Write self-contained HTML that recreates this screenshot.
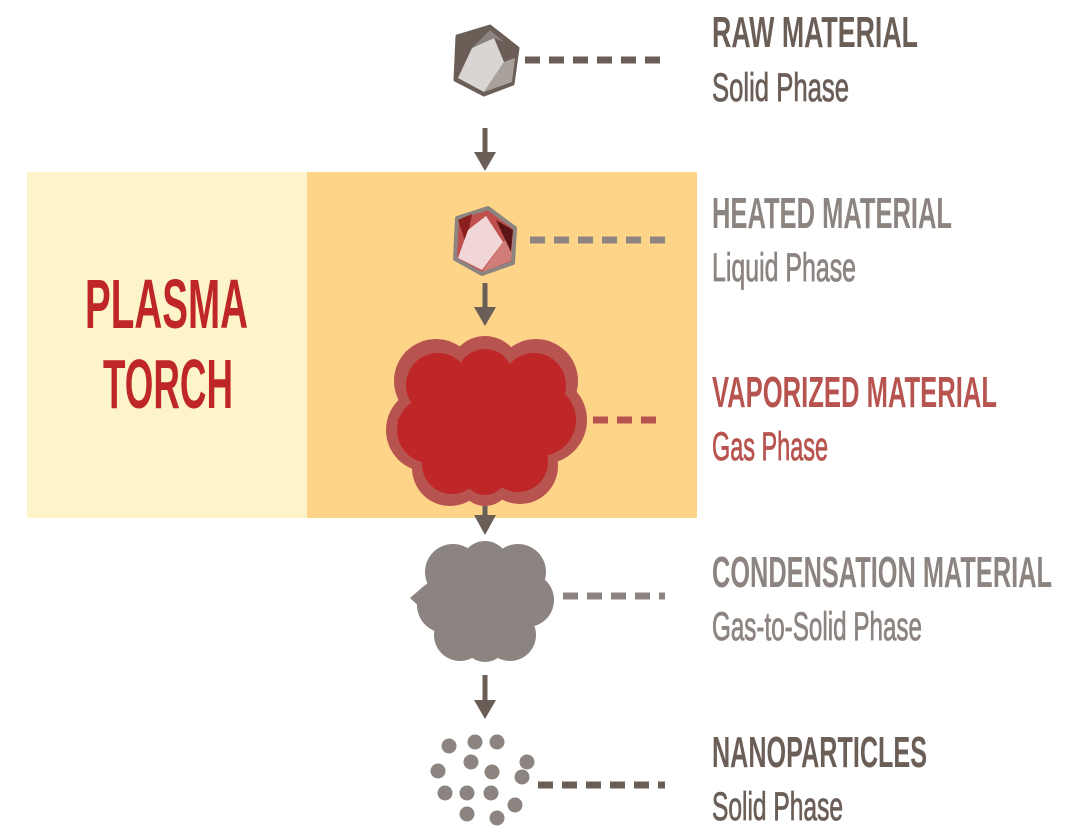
<!DOCTYPE html>
<html><head><meta charset="utf-8"><style>
html,body{margin:0;padding:0;background:#fff;width:1080px;height:840px;overflow:hidden}
text{font-family:"Liberation Sans Narrow","Liberation Sans",sans-serif}
.t{font-weight:bold;font-size:44px}
.s{font-size:40px;stroke-width:0.8}
</style></head><body>
<svg width="1080" height="840" viewBox="0 0 1080 840" xmlns="http://www.w3.org/2000/svg">
<rect x="27" y="172" width="281" height="346" fill="#fdf5c9"/>
<rect x="307" y="172" width="390" height="346" fill="#fdd488"/>
<text x="85" y="328" font-size="70" font-weight="bold" fill="#be2628" textLength="163" lengthAdjust="spacingAndGlyphs">PLASMA</text>
<text x="103" y="408" font-size="70" font-weight="bold" fill="#be2628" textLength="130" lengthAdjust="spacingAndGlyphs">TORCH</text>

<g stroke-width="7" fill="none">
<line x1="525" y1="60" x2="665" y2="60" stroke="#6b5e57" stroke-dasharray="15 9"/>
<line x1="530" y1="240" x2="665" y2="240" stroke="#8c8480" stroke-dasharray="15 9"/>
<line x1="593" y1="420" x2="665" y2="420" stroke="#b85450" stroke-dasharray="15 9"/>
<line x1="563" y1="596" x2="665" y2="596" stroke="#8c8480" stroke-dasharray="15 9"/>
<line x1="538" y1="785" x2="665" y2="785" stroke="#6b5e57" stroke-dasharray="15 9"/>
</g>

<g fill="#6b5e57" stroke="#6b5e57">
<line x1="485" y1="128" x2="485" y2="155" stroke-width="5"/><polygon points="474,152 496,152 485,171" stroke="none"/>
<line x1="485" y1="283" x2="485" y2="310" stroke-width="5"/><polygon points="474,307 496,307 485,326" stroke="none"/>
<line x1="485" y1="500" x2="485" y2="520" stroke-width="5"/><polygon points="474,515 496,515 485,535" stroke="none"/>
<line x1="485" y1="675" x2="485" y2="702" stroke-width="5"/><polygon points="474,700 496,700 485,719" stroke="none"/>
</g>

<!-- raw gem -->
<polygon points="457,36 490,26 518,48 513,84 484,95 455,80" fill="#6b5e57" stroke="#6b5e57" stroke-width="3" stroke-linejoin="round"/>
<polygon points="458,78 472,48 494,38 504,62 484,92" fill="#d9d5d3"/>
<polygon points="504,62 515,58 512,82 484,92" fill="#a9a19c"/>
<polygon points="472,48 490,30 504,42 494,38" fill="#8c8480"/>

<!-- heated gem -->
<polygon points="457,218 488,208 515,228 513,263 482,274 455,259" fill="#c0504d" stroke="#8c8480" stroke-width="4" stroke-linejoin="round"/>
<polygon points="458,220 472,214 466,244" fill="#8b1f1f"/>
<polygon points="458,258 468,230 486,216 503,242 482,270" fill="#f0d6d6"/>
<polygon points="503,242 513,236 511,261 482,272" fill="#d07c78"/>
<polygon points="496,220 513,230 511,252" fill="#5c1515"/>

<!-- red cloud -->
<g fill="#b85450">
<circle cx="436" cy="381" r="42"/><circle cx="485" cy="372" r="36"/><circle cx="536" cy="381" r="42"/>
<circle cx="428" cy="430" r="42"/><circle cx="543" cy="420" r="44"/>
<circle cx="450" cy="468" r="38"/><circle cx="520" cy="466" r="38"/><circle cx="485" cy="480" r="26"/>
<circle cx="485" cy="425" r="60"/>
<polygon points="388,420 410,398 410,442"/>
</g>
<g fill="#be2628">
<circle cx="438" cy="385" r="32"/><circle cx="485" cy="377" r="28"/><circle cx="534" cy="385" r="32"/>
<circle cx="430" cy="430" r="33"/><circle cx="540" cy="420" r="36"/>
<circle cx="452" cy="464" r="30"/><circle cx="518" cy="462" r="30"/><circle cx="485" cy="473" r="22"/>
<circle cx="485" cy="425" r="55"/>
<polygon points="397,420 412,406 412,436"/>
</g>

<!-- gray cloud -->
<g fill="#8c8480">
<circle cx="453" cy="572" r="28"/><circle cx="485" cy="565" r="24"/><circle cx="518" cy="572" r="28"/>
<circle cx="445" cy="605" r="28"/><circle cx="527" cy="600" r="27"/>
<circle cx="460" cy="635" r="26"/><circle cx="510" cy="635" r="26"/><circle cx="485" cy="640" r="22"/>
<circle cx="485" cy="602" r="42"/>
<polygon points="410,598 425,585 425,612"/>
</g>

<g fill="#8c8480">
<circle cx="449" cy="746" r="7.5"/><circle cx="475" cy="742" r="7.5"/><circle cx="497" cy="742" r="7.5"/>
<circle cx="438" cy="771" r="7.5"/><circle cx="471" cy="762" r="7.5"/><circle cx="492" cy="772" r="7.5"/>
<circle cx="527" cy="762" r="7.5"/><circle cx="522" cy="777" r="7.5"/>
<circle cx="445" cy="793" r="7.5"/><circle cx="467" cy="793" r="7.5"/><circle cx="491" cy="793" r="7.5"/>
<circle cx="515" cy="805" r="7.5"/><circle cx="467" cy="814" r="7.5"/><circle cx="497" cy="818" r="7.5"/>
</g>

<text class="t" x="712" y="47" fill="#6b5e57" textLength="206" lengthAdjust="spacingAndGlyphs">RAW MATERIAL</text>
<text class="s" x="712" y="101" fill="#6b5e57" stroke="#6b5e57" textLength="137" lengthAdjust="spacingAndGlyphs">Solid Phase</text>
<text class="t" x="712" y="228" fill="#8c8480" textLength="240" lengthAdjust="spacingAndGlyphs">HEATED MATERIAL</text>
<text class="s" x="712" y="281" fill="#8c8480" stroke="#8c8480" textLength="144" lengthAdjust="spacingAndGlyphs">Liquid Phase</text>
<text class="t" x="712" y="407" fill="#b85450" textLength="285" lengthAdjust="spacingAndGlyphs">VAPORIZED MATERIAL</text>
<text class="s" x="712" y="460" fill="#b85450" stroke="#b85450" textLength="116" lengthAdjust="spacingAndGlyphs">Gas Phase</text>
<text class="t" x="712" y="587" fill="#8c8480" textLength="340" lengthAdjust="spacingAndGlyphs">CONDENSATION MATERIAL</text>
<text class="s" x="712" y="640" fill="#8c8480" stroke="#8c8480" textLength="210" lengthAdjust="spacingAndGlyphs">Gas-to-Solid Phase</text>
<text class="t" x="712" y="767" fill="#6b5e57" textLength="215" lengthAdjust="spacingAndGlyphs">NANOPARTICLES</text>
<text class="s" x="712" y="820" fill="#6b5e57" stroke="#6b5e57" textLength="131" lengthAdjust="spacingAndGlyphs">Solid Phase</text>
</svg>
</body></html>
